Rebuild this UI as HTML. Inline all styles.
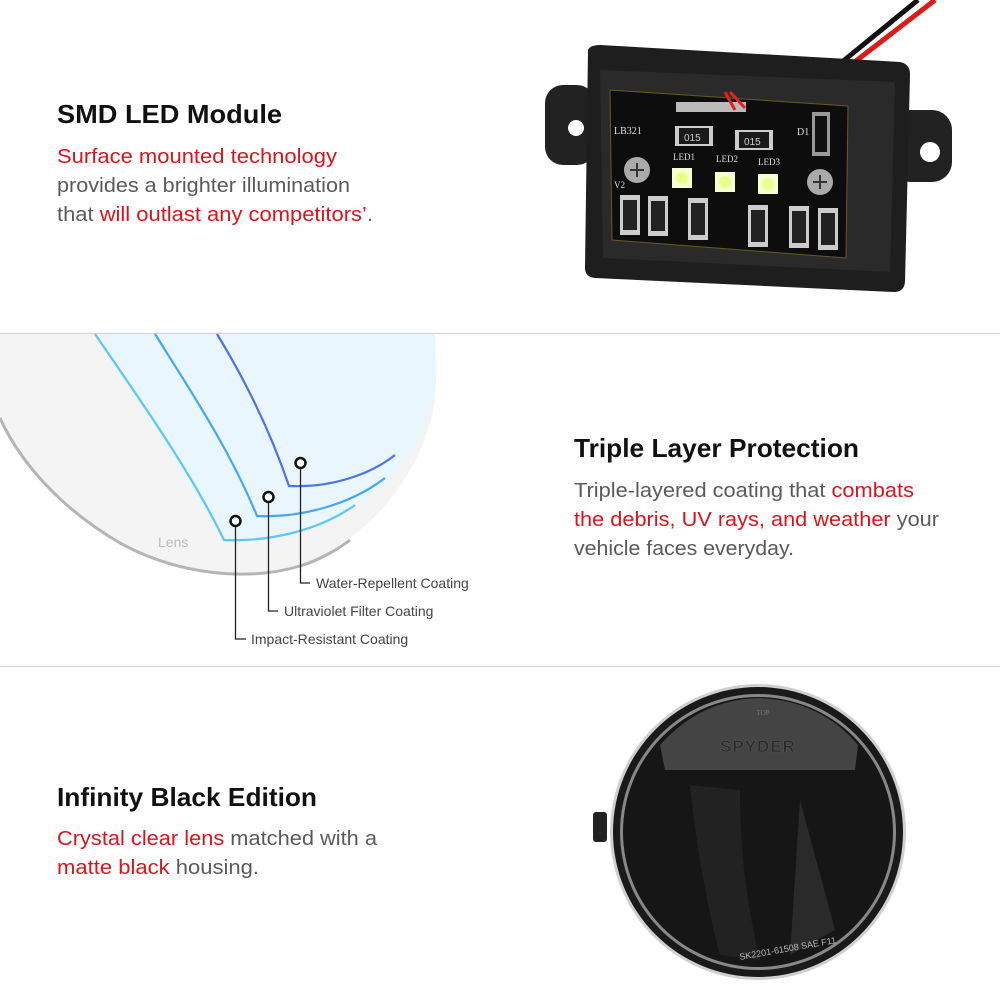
<!DOCTYPE html>
<html><head><meta charset="utf-8"><style>
html,body{margin:0;padding:0;background:#fff;}
svg{display:block;}
.t{font-family:"Liberation Sans",sans-serif;font-weight:bold;font-size:26px;fill:#111;}
.b{font-family:"Liberation Sans",sans-serif;font-size:20.5px;fill:#5a5a5a;}
.r{fill:#d9141b;}
.s{font-family:"Liberation Sans",sans-serif;font-size:14px;fill:#444;}
</style></head><body>
<svg width="1000" height="1000" viewBox="0 0 1000 1000" xmlns="http://www.w3.org/2000/svg">
<rect width="1000" height="1000" fill="#fff"/>
<text class="t" x="57" y="123" textLength="225" lengthAdjust="spacingAndGlyphs">SMD LED Module</text>
<text class="b" x="57" y="163" textLength="280" lengthAdjust="spacingAndGlyphs"><tspan class="r">Surface mounted technology</tspan></text>
<text class="b" x="57" y="192" textLength="293" lengthAdjust="spacingAndGlyphs">provides a brighter illumination</text>
<text class="b" x="57" y="221" textLength="316" lengthAdjust="spacingAndGlyphs">that <tspan class="r">will outlast any competitors’</tspan>.</text>

<path d="M842,62 L918,0" stroke="#111" stroke-width="5"/>
<path d="M852,64 L935,0" stroke="#e01818" stroke-width="5"/>
<rect x="545" y="85" width="50" height="80" rx="18" fill="#222"/>
<circle cx="576" cy="128" r="8" fill="#fff"/>
<rect x="890" y="110" width="62" height="72" rx="20" fill="#222"/>
<circle cx="930" cy="152" r="10" fill="#fff"/>
<path d="M588,50 Q590,45 600,45 L900,62 Q910,64 910,74 L905,282 Q904,292 894,292 L595,278 Q585,277 585,268 Z" fill="#1e1e1e"/>
<path d="M600,70 L895,82 L890,272 L603,258 Z" fill="#2a2a2a"/>
<path d="M610,90 L848,106 L846,258 L612,240 Z" fill="#0d0d0d" stroke="#6a5a20" stroke-width="1"/>
<text x="614" y="134" font-family="Liberation Serif,serif" font-size="10" fill="#ddd">LB321</text>
<text x="797" y="135" font-family="Liberation Serif,serif" font-size="10" fill="#ddd">D1</text>
<text x="614" y="188" font-family="Liberation Serif,serif" font-size="9" fill="#ddd">V2</text>
<text x="673" y="160" font-family="Liberation Serif,serif" font-size="9" fill="#ddd">LED1</text>
<text x="716" y="162" font-family="Liberation Serif,serif" font-size="9" fill="#ddd">LED2</text>
<text x="758" y="165" font-family="Liberation Serif,serif" font-size="9" fill="#ddd">LED3</text>
<rect x="675" y="126" width="38" height="20" fill="#ccc"/><rect x="679" y="128" width="30" height="16" fill="#1a1a1a"/>
<text x="684" y="141" font-family="Liberation Sans,sans-serif" font-size="10" fill="#ccc">015</text>
<rect x="735" y="130" width="38" height="20" fill="#ccc"/><rect x="739" y="132" width="30" height="16" fill="#1a1a1a"/>
<text x="744" y="145" font-family="Liberation Sans,sans-serif" font-size="10" fill="#ccc">015</text>
<rect x="812" y="112" width="18" height="44" fill="#999"/><rect x="815" y="116" width="12" height="36" fill="#111"/>
<rect x="676" y="102" width="70" height="10" fill="#bbb"/>
<path d="M725,92 L735,110 M730,92 L745,108" stroke="#e52020" stroke-width="3"/>
<circle cx="637" cy="170" r="13" fill="#aaa"/><path d="M630,170 H644 M637,163 V177" stroke="#333" stroke-width="2"/>
<circle cx="820" cy="182" r="13" fill="#aaa"/><path d="M813,182 H827 M820,175 V189" stroke="#333" stroke-width="2"/>
<rect x="672" y="168" width="20" height="20" fill="#f5ffd0"/><circle cx="682" cy="178" r="6" fill="#eaff8a"/>
<rect x="715" y="172" width="20" height="20" fill="#f5ffd0"/><circle cx="725" cy="182" r="6" fill="#eaff8a"/>
<rect x="758" y="174" width="20" height="20" fill="#f5ffd0"/><circle cx="768" cy="184" r="6" fill="#eaff8a"/>
<g fill="#ccc">
<rect x="620" y="195" width="20" height="40"/><rect x="648" y="196" width="20" height="40"/><rect x="688" y="198" width="20" height="42"/>
<rect x="748" y="205" width="20" height="42"/><rect x="789" y="206" width="20" height="42"/><rect x="818" y="208" width="20" height="42"/>
</g>
<g fill="#222">
<rect x="623" y="200" width="14" height="30"/><rect x="651" y="201" width="14" height="30"/><rect x="691" y="203" width="14" height="32"/>
<rect x="751" y="210" width="14" height="32"/><rect x="792" y="211" width="14" height="32"/><rect x="821" y="213" width="14" height="32"/>
</g>

<line x1="0" y1="333.5" x2="1000" y2="333.5" stroke="#d8d8d8" stroke-width="1.5"/>

<path d="M0,334.5 L435,334.5 L435,400 C425,470 370,540 300,566 C250,581 180,576 120,543 C60,508 20,462 0,418 Z" fill="#f4f4f4"/>
<path d="M0,418 C20,462 60,508 120,543 C180,576 250,581 300,566 C320,560 340,548 350,540" fill="none" stroke="#b5b5b5" stroke-width="3"/>
<path d="M95,334.5 L435,334.5 L436,380 C430,430 405,470 365,500 C330,525 270,540 224,540 C180,470 130,390 95,334.5 Z" fill="#e9f6fd"/>
<path d="M95,334 C140,400 190,470 224,540 C270,542 320,530 355,505" fill="none" stroke="#5cc6f7" stroke-width="2.2"/>
<path d="M155,334 C190,390 230,450 257,516 C300,518 350,505 385,478" fill="none" stroke="#44a6f2" stroke-width="2.2"/>
<path d="M217,334 C245,380 270,430 289,486 C330,488 370,475 395,455" fill="none" stroke="#4d72ea" stroke-width="2.2"/>
<text x="158" y="547" font-family="Liberation Sans,sans-serif" font-size="14" fill="#bbb">Lens</text>
<g fill="none" stroke="#222" stroke-width="1.3">
<path d="M235.5,527 V639 H246"/><path d="M268.5,503 V611 H278"/><path d="M300.5,469 V583 H310"/>
</g>
<g fill="#fff" stroke="#111" stroke-width="2.5">
<circle cx="235.5" cy="521" r="5"/><circle cx="268.5" cy="497" r="5"/><circle cx="300.5" cy="463" r="5"/>
</g>
<text class="s" x="316" y="588">Water-Repellent Coating</text>
<text class="s" x="284" y="616">Ultraviolet Filter Coating</text>
<text class="s" x="251" y="644">Impact-Resistant Coating</text>

<text class="t" x="574" y="457" textLength="285" lengthAdjust="spacingAndGlyphs">Triple Layer Protection</text>
<text class="b" x="574" y="497" textLength="340" lengthAdjust="spacingAndGlyphs">Triple-layered coating that <tspan class="r">combats</tspan></text>
<text class="b" x="574" y="526" textLength="365" lengthAdjust="spacingAndGlyphs"><tspan class="r">the debris, UV rays, and weather</tspan> your</text>
<text class="b" x="574" y="555" textLength="220" lengthAdjust="spacingAndGlyphs">vehicle faces everyday.</text>

<line x1="0" y1="666.5" x2="1000" y2="666.5" stroke="#d8d8d8" stroke-width="1.5"/>

<text class="t" x="57" y="806" textLength="260" lengthAdjust="spacingAndGlyphs">Infinity Black Edition</text>
<text class="b" x="57" y="845" textLength="320" lengthAdjust="spacingAndGlyphs"><tspan class="r">Crystal clear lens</tspan> matched with a</text>
<text class="b" x="57" y="874" textLength="202" lengthAdjust="spacingAndGlyphs"><tspan class="r">matte black</tspan> housing.</text>

<rect x="593" y="812" width="14" height="30" rx="3" fill="#222"/>
<circle cx="758" cy="832" r="148" fill="#d0d0d0"/>
<circle cx="758" cy="832" r="145" fill="#1a1a1a"/>
<circle cx="758" cy="832" r="138" fill="#888"/>
<circle cx="758" cy="832" r="135" fill="#161616"/>
<path d="M660,745 Q700,700 758,698 Q820,700 858,745 L855,770 L665,770 Z" fill="#444"/>
<text x="758" y="752" text-anchor="middle" font-family="Liberation Sans,sans-serif" font-weight="bold" font-size="17" fill="#2a2a2a" stroke="#555" stroke-width="0.6" letter-spacing="1">SPYDER</text>
<text x="763" y="715" text-anchor="middle" font-family="Liberation Serif,serif" font-size="7" fill="#777">TOP</text>
<path d="M690,785 Q700,880 720,955 L760,960 Q740,880 740,790 Z" fill="#222"/>
<path d="M800,800 L835,930 L790,955 Z" fill="#2a2a2a"/>
<text x="740" y="960" font-family="Liberation Sans,sans-serif" font-size="9" fill="#bbb" transform="rotate(-10 740 960)">SK2201-61508 SAE F11</text>
</svg>
</body></html>
